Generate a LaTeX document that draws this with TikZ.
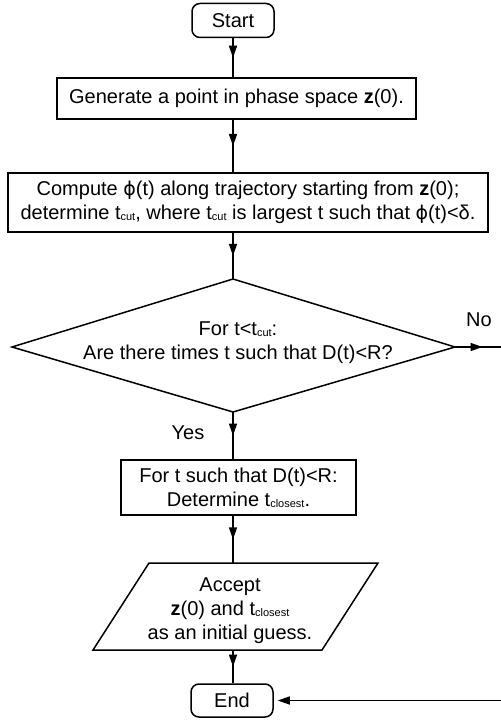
\documentclass[tikz,border=0pt]{standalone}
\usepackage{fontspec}
\setmainfont{Liberation Sans}
\newfontfamily\phifont{DejaVu Sans}
\usetikzlibrary{arrows.meta,decorations.markings}
\newcommand{\smallsub}[1]{\raisebox{-0.4pt}{\fontsize{5.5}{6}\selectfont #1}}
\newcommand{\myphi}{{\phifont\fontsize{9.5}{12}\selectfont ϕ}}
\begin{document}
\begin{tikzpicture}[x=0.5pt,y=-0.5pt,
  every node/.style={font=\fontsize{10}{12}\selectfont},
  term/.style={draw,rounded corners=4pt,minimum width=41pt,minimum height=17pt,inner sep=0pt,line width=0.75pt},
  proc/.style={draw,inner sep=0pt,align=center,line width=0.75pt},
  lbl/.style={inner sep=0pt,align=center},
  shapeline/.style={line width=0.75pt},
  midarrow/.style={line width=0.75pt,postaction={decorate},decoration={markings,mark=at position 0.5 with {\arrow{Triangle[length=6pt,width=4pt]}}}},
  endarrow/.style={line width=0.75pt,-{Triangle[length=6pt,width=4pt]},shorten >=2pt}
]
\useasboundingbox (0,0) rectangle (500,721);
\coordinate (axis) at (233,0);

\node[term] (start) at (233,20.5) {Start};
\node[proc,minimum width=179.5pt,minimum height=20.5pt] (b1) at (236.5,98.5) {Generate a point in phase space \textbf{z}(0).};
\node[proc,minimum width=240pt,minimum height=29.5pt] (b2) at (248,202.5) {Compute \myphi(t) along trajectory starting from \textbf{z}(0);\\determine t\smallsub{cut}, where t\smallsub{cut} is largest t such that \myphi(t)<δ.};

\coordinate (dtop) at (233,279);
\coordinate (dleft) at (12,347);
\coordinate (dright) at (455,347);
\coordinate (dbot) at (233,412);
\draw[shapeline] (dtop) -- (dright) -- (dbot) -- (dleft) -- cycle;
\node[lbl] (dtxt) at (238,343) {For t<t\smallsub{cut}:\\Are there times t such that D(t)<R?};

\node[proc,minimum width=117.5pt,minimum height=27.5pt] (b3) at (238.5,487.5) {For t such that D(t)<R:\\Determine t\smallsub{closest}.};

\coordinate (ptl) at (149,563);
\coordinate (ptr) at (378,563);
\coordinate (pbr) at (322,650);
\coordinate (pbl) at (93,650);
\coordinate (ptop) at (233,563);
\coordinate (pbot) at (233,650);
\draw[shapeline] (ptl) -- (ptr) -- (pbr) -- (pbl) -- cycle;
\node[lbl] (ptxt) at (230,611) {Accept\\\textbf{z}(0) and t\smallsub{closest}\\as an initial guess.};

\node[term,minimum height=16.5pt] (end) at (232,700.5) {End};

\node[lbl] (yes) at (188,433) {Yes};
\node[lbl] (no) at (479,320) {No};

\draw[midarrow] (start.south) -- (start.south |- b1.north);
\draw[midarrow] (b1.south -| axis) -- (b2.north -| axis);
\draw[midarrow] (b2.south -| axis) -- (dtop);
\draw[midarrow] (dbot) -- (b3.north -| axis);
\draw[midarrow] (b3.south -| axis) -- (ptop);
\draw[midarrow] (pbot) -- (end.north -| axis);
\coordinate (nocorner) at (510,347);
\draw[midarrow] (dright) -- (nocorner);
\draw[endarrow] (nocorner) |- (end.east);
\end{tikzpicture}
\end{document}
